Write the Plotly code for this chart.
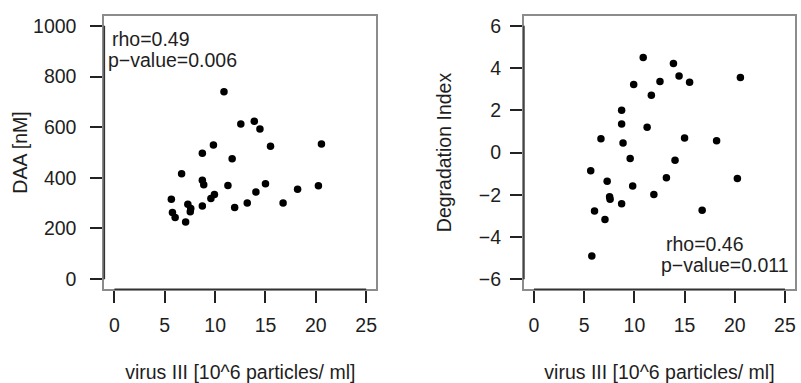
import plotly.graph_objects as go

# Shared x values: virus III [10^6 particles/ ml]
virus = [5.65, 5.76, 6.03, 6.67, 7.07, 7.29, 7.53, 7.58, 8.73, 8.73, 8.73, 8.87, 9.58, 9.83, 9.93,
         10.88, 11.27, 11.69, 11.94, 12.55, 13.19, 13.89, 14.05, 14.45, 15.0, 15.5, 16.75, 18.19, 20.26, 20.56]
# Left panel: DAA [nM]
daa = [315, 263, 243, 416, 226, 296, 266, 279, 497, 390, 289, 373, 318, 530, 334,
       740, 370, 475, 283, 613, 301, 623, 344, 593, 377, 525, 301, 355, 369, 534]
# Right panel: Degradation Index
deg_index = [-0.87, -4.9, -2.77, 0.65, -3.17, -1.36, -2.1, -2.22, 2.0, 1.35, -2.43, 0.45, -0.29, -1.59, 3.22,
             4.5, 1.2, 2.71, -1.99, 3.36, -1.2, 4.22, -0.37, 3.63, 0.69, 3.33, -2.74, 0.56, -1.23, 3.55]

x_ticks = [0, 5, 10, 15, 20, 25]
daa_ticks = [0, 200, 400, 600, 800, 1000]
deg_ticks = [-6, -4, -2, 0, 2, 4, 6]

left_stats = ["rho=0.49", "p\u2212value=0.006"]
right_stats = ["rho=0.46", "p\u2212value=0.011"]

W, H = 801, 383
FONT = "Liberation Sans, Arial, Helvetica, sans-serif"
FS = 19.5
TXT = "#1e1e1e"

def px_x(p):
    return p / W

def px_y(p):
    return 1 - p / H

fig = go.Figure()
fig.add_trace(go.Scatter(x=virus, y=daa, mode="markers", xaxis="x", yaxis="y",
                         marker=dict(color="black", size=7.5, line=dict(width=0))))
fig.add_trace(go.Scatter(x=virus, y=deg_index, mode="markers", xaxis="x2", yaxis="y2",
                         marker=dict(color="black", size=7.5, line=dict(width=0))))

ydom = [px_y(289.8), px_y(14.8)]
common_axis = dict(
    showgrid=False, zeroline=False, showline=True, mirror=True,
    linecolor="#8c8c8c", linewidth=2,
    ticks="outside", ticklen=12, tickwidth=1.5, tickcolor="#222",
    tickfont=dict(family=FONT, size=FS, color=TXT),
)

title_font = dict(family=FONT, size=FS, color=TXT)

fig.update_layout(
    width=W, height=H,
    margin=dict(l=0, r=0, t=0, b=0),
    paper_bgcolor="white", plot_bgcolor="white",
    showlegend=False,
    xaxis=dict(common_axis, domain=[px_x(104.5), px_x(376.7)], range=[-1, 26],
               tickvals=x_ticks, anchor="y", ticklabelstandoff=5,
               title=dict(text="virus III [10^6 particles/ ml]", font=title_font, standoff=33)),
    yaxis=dict(common_axis, domain=ydom, range=[-40, 1040], tickvals=daa_ticks, anchor="x",
               ticklabelstandoff=10,
               title=dict(text="DAA [nM]", font=title_font, standoff=0)),
    xaxis2=dict(common_axis, domain=[px_x(524.6), px_x(796)], range=[-1, 26],
                tickvals=x_ticks, anchor="y2", ticklabelstandoff=5,
                title=dict(text="virus III [10^6 particles/ ml]", font=title_font, standoff=33)),
    yaxis2=dict(common_axis, domain=ydom, range=[-6.48, 6.48], tickvals=deg_ticks, anchor="x2",
                ticklabelstandoff=5,
                title=dict(text="Degradation Index", font=title_font, standoff=22)),
)

# R-style axis lines spanning the tick range
shapes = []
for xa, ya, yt in [("x", "y", daa_ticks), ("x2", "y2", deg_ticks)]:
    shapes.append(dict(type="line", xref=xa, yref=ya + " domain", x0=x_ticks[0], x1=x_ticks[-1],
                       y0=0, y1=0, line=dict(color="#333", width=1.5)))
    shapes.append(dict(type="line", xref=xa + " domain", yref=ya, x0=0, x1=0,
                       y0=yt[0], y1=yt[-1], line=dict(color="#333", width=1.5)))
fig.update_layout(shapes=shapes)

ann_font = dict(family=FONT, size=FS, color=TXT)
anns = [
    dict(text=left_stats[0], x=px_x(111), y=px_y(38.5)),
    dict(text=left_stats[1], x=px_x(107), y=px_y(59.5)),
    dict(text=right_stats[0], x=px_x(666), y=px_y(244)),
    dict(text=right_stats[1], x=px_x(661), y=px_y(265)),
]
for a in anns:
    fig.add_annotation(xref="paper", yref="paper", xanchor="left", yanchor="middle",
                       showarrow=False, font=ann_font, borderpad=0, **a)

# remove the default page margin so the 801x383 figure fills the window exactly
fig.write_html(
    "out.html",
    config={"displayModeBar": False},
    post_script="document.body.style.margin='0px';document.body.style.overflow='hidden';",
)
